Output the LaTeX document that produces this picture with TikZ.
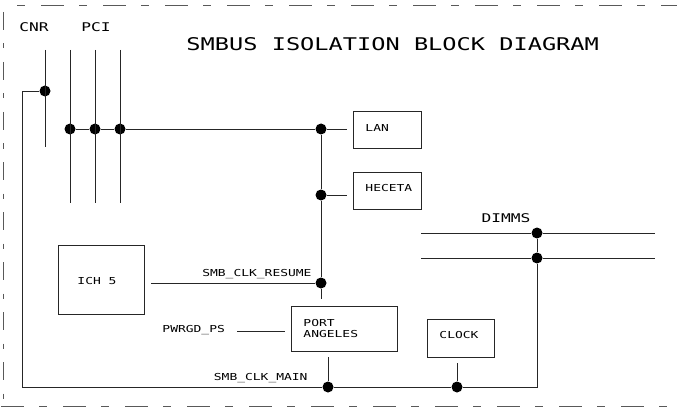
\documentclass[tikz,border=0pt]{standalone}
\usepackage{fontspec}
\newfontfamily\cad{DejaVu Sans Mono}[FakeStretch=1.35]
\begin{document}
\begin{tikzpicture}[x=1pt,y=-1pt,line width=0.9pt,
  wire/.style={draw=black!85},
  dot/.style={circle,fill=black,inner sep=0pt,minimum size=11pt},
  box/.style={draw=black!85,inner sep=0pt},
  lbl/.style={font=\cad\fontsize{9.6}{11}\selectfont,inner sep=0pt,anchor=base west},
  big/.style={font=\cad\fontsize{12}{14}\selectfont,inner sep=0pt,anchor=base},
  frame/.style={draw=black!65,line width=1pt}]
\useasboundingbox (0,0) rectangle (677,409);
% frame
\draw[frame,dash pattern=on 8pt off 16pt on 23pt off 15pt] (17,6) -- (677,6);
\draw[frame,dash pattern=on 23pt off 15pt on 8pt off 16pt] (1,406) -- (677,406);
\draw[frame,dash pattern=on 18pt off 13.5pt on 5pt off 13.5pt] (3,12) -- (3,400);
% texts
\node[big] (cnr) at (34,31.5) {CNR};
\node[big] (pci) at (96,31.5) {PCI};
\node[font=\cad\fontsize{17.5}{20}\selectfont,inner sep=0pt,anchor=base west] (title) at (186,50.5) {SMBUS ISOLATION BLOCK DIAGRAM};
\node[big] (dimms) at (506,222.5) {DIMMS};
% boxes
\node[box,minimum width=68pt,minimum height=37pt] (lan) at (387,129.5) {};
\node[box,minimum width=68pt,minimum height=37pt] (hec) at (387,190.5) {};
\node[box,minimum width=86pt,minimum height=69pt] (ich) at (101,279.5) {};
\node[box,minimum width=106pt,minimum height=45pt] (pa) at (344,328.5) {};
\node[box,minimum width=67pt,minimum height=38pt] (clk) at (460.5,338) {};
\node[lbl] (tlan) at (365,131.5) {LAN};
\node[lbl] (thec) at (365,191.5) {HECETA};
\node[lbl] (tich) at (77,284.5) {ICH 5};
\node[lbl] (tpa1) at (303,326.5) {PORT};
\node[lbl] (tpa2) at (303,337.5) {ANGELES};
\node[lbl] (tclk) at (439,338.5) {CLOCK};
\node[lbl,anchor=base east] (lres) at (312,276.5) {SMB\_CLK\_RESUME};
\node[lbl,anchor=base east] (lmain) at (308,380.5) {SMB\_CLK\_MAIN};
\node[lbl] (lpwr) at (162,332.5) {PWRGD\_PS};
% dots
\node[dot] (dcnr) at (45,91) {};
\node[dot] (d1) at (70,129) {};
\node[dot] (d2) at (95,129) {};
\node[dot] (d3) at (120,129) {};
\node[dot] (dlan) at (321,129) {};
\node[dot] (dhec) at (321,195) {};
\node[dot] (dres) at (321,283) {};
\node[dot] (dpa) at (328,387) {};
\node[dot] (dclk) at (457,387) {};
\node[dot] (ddimA) at (537,233) {};
\node[dot] (ddimB) at (537,258) {};
% coordinates
\coordinate (cnrT) at (45,50);
\coordinate (cnrB) at (45,147);
\coordinate (cnrL) at (22,91);
\coordinate (mainL) at (22,387);
\coordinate (mainR) at (537,387);
\coordinate (p1T) at (70,50);
\coordinate (p1B) at (70,203);
\coordinate (p2T) at (95,50);
\coordinate (p2B) at (95,203);
\coordinate (p3T) at (120,50);
\coordinate (p3B) at (120,203);
\coordinate (lanW) at (347,129);
\coordinate (hecW) at (347,195);
\coordinate (busB) at (321,299);
\coordinate (resW) at (151,283);
\coordinate (pwrA) at (237,331);
\coordinate (pwrB) at (285,331);
\coordinate (paS) at (328,357);
\coordinate (clkS) at (457,363);
\coordinate (dimA1) at (421,233);
\coordinate (dimA2) at (655,233);
\coordinate (dimB1) at (421,258);
\coordinate (dimB2) at (655,258);
% wires
\draw[wire] (cnrT) -- (cnrB);
\draw[wire] (p1T) -- (p1B);
\draw[wire] (p2T) -- (p2B);
\draw[wire] (p3T) -- (p3B);
\draw[wire] (dcnr) -- (cnrL) -- (mainL) -- (dpa) -- (dclk) -- (mainR) -- (ddimB) -- (ddimA);
\draw[wire] (d1) -- (d2) -- (d3) -- (dlan) -- (lanW);
\draw[wire] (dlan) -- (dhec) -- (dres) -- (busB);
\draw[wire] (dhec) -- (hecW);
\draw[wire] (resW) -- (dres);
\draw[wire] (pwrA) -- (pwrB);
\draw[wire] (paS) -- (dpa);
\draw[wire] (clkS) -- (dclk);
\draw[wire] (dimA1) -- (ddimA) -- (dimA2);
\draw[wire] (dimB1) -- (ddimB) -- (dimB2);
\end{tikzpicture}
\end{document}
